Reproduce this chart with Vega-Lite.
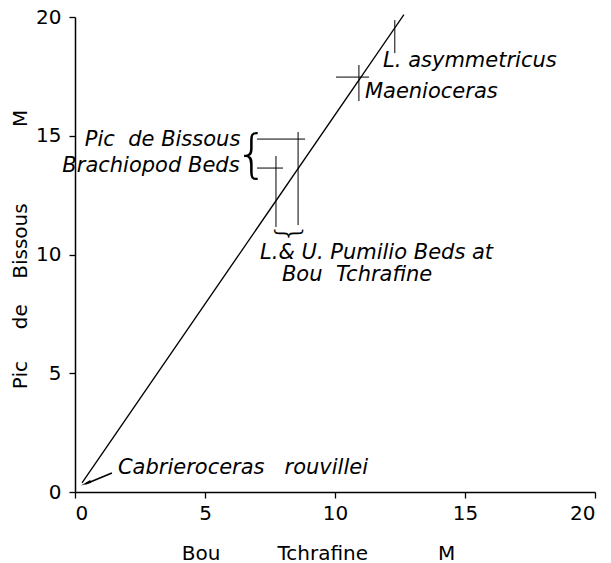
{
  "$schema": "https://vega.github.io/schema/vega-lite/v6.json",
  "width": 520,
  "height": 475,
  "autosize": {"type": "none"},
  "padding": {"left": 75, "top": 17, "right": 16, "bottom": 71},
  "background": "white",
  "config": {
    "view": {"stroke": null},
    "axis": {"grid": false, "domainColor": "black", "tickColor": "black", "domainWidth": 1.5, "tickWidth": 1.3, "labelColor": "black", "titleColor": "black", "labelFont": "DejaVu Sans", "titleFont": "DejaVu Sans", "labelFontSize": 20, "titleFontSize": 20, "titleFontWeight": "normal", "tickSize": 6}
  },
  "datasets": {
    "line": [{"x": 0.27, "y": 0.38}, {"x": 12.65, "y": 20.1}],
    "vbars": [
      {"x": 12.3, "y1": 18.48, "y2": 19.87},
      {"x": 10.92, "y1": 16.46, "y2": 17.98},
      {"x": 8.58, "y1": 11.24, "y2": 15.16},
      {"x": 7.73, "y1": 11.16, "y2": 14.15}
    ],
    "hbars": [
      {"y": 17.47, "x1": 10.04, "x2": 11.31},
      {"y": 14.86, "x1": 7.0, "x2": 8.85},
      {"y": 13.64, "x1": 7.0, "x2": 8.0}
    ],
    "labelsLeft": [
      {"x": 11.85, "y": 18.15, "label": "L. asymmetricus"},
      {"x": 11.15, "y": 16.84, "label": "Maenioceras"},
      {"x": 7.12, "y": 10.06, "label": "L.& U. Pumilio Beds at"},
      {"x": 7.96, "y": 9.14, "label": "Bou\u00a0\u00a0Tchrafine"},
      {"x": 1.65, "y": 1.01, "label": "Cabrieroceras\u00a0\u00a0\u00a0rouvillei"}
    ],
    "labelsRight": [
      {"x": 6.36, "y": 14.82, "label": "Pic\u00a0\u00a0de Bissous"},
      {"x": 6.33, "y": 13.73, "label": "Brachiopod Beds"}
    ],
    "braceLeft": [{"x": 6.8, "y": 14.19}],
    "braceBottom": [{"x": 8.19, "y": 10.9}],
    "arrow": [{"x": 1.42, "y": 0.8, "x2": 0.4, "y2": 0.34}],
    "arrowHead": [{"x": 0.48, "y": 0.39}]
  },
  "layer": [
    {
      "data": {"name": "line"},
      "mark": {"type": "line", "color": "black", "strokeWidth": 1.3},
      "encoding": {
        "x": {"field": "x", "type": "quantitative", "scale": {"domain": [0, 20], "nice": false}, "axis": {"values": [0, 5, 10, 15, 20], "title": "Bou\u00a0\u00a0\u00a0\u00a0\u00a0\u00a0\u00a0\u00a0\u00a0Tchrafine\u00a0\u00a0\u00a0\u00a0\u00a0\u00a0\u00a0\u00a0\u00a0\u00a0\u00a0M", "labelPadding": 5, "titlePadding": 20, "titleX": 243}},
        "y": {"field": "y", "type": "quantitative", "scale": {"domain": [0, 20], "nice": false}, "axis": {"values": [0, 5, 10, 15, 20], "title": "Pic\u00a0\u00a0\u00a0\u00a0\u00a0de\u00a0\u00a0\u00a0\u00a0Bissous\u00a0\u00a0\u00a0\u00a0\u00a0\u00a0\u00a0\u00a0\u00a0\u00a0\u00a0\u00a0M", "labelPadding": 8, "titlePadding": 5, "titleY": 232}}
      }
    },
    {
      "data": {"name": "vbars"},
      "mark": {"type": "rule", "color": "black", "strokeWidth": 1},
      "encoding": {
        "x": {"field": "x", "type": "quantitative"},
        "y": {"field": "y1", "type": "quantitative"},
        "y2": {"field": "y2"}
      }
    },
    {
      "data": {"name": "hbars"},
      "mark": {"type": "rule", "color": "black", "strokeWidth": 1},
      "encoding": {
        "y": {"field": "y", "type": "quantitative"},
        "x": {"field": "x1", "type": "quantitative"},
        "x2": {"field": "x2"}
      }
    },
    {
      "data": {"name": "labelsLeft"},
      "mark": {"type": "text", "align": "left", "baseline": "middle", "font": "DejaVu Sans", "fontStyle": "italic", "fontSize": 21, "color": "black"},
      "encoding": {
        "x": {"field": "x", "type": "quantitative"},
        "y": {"field": "y", "type": "quantitative"},
        "text": {"field": "label"}
      }
    },
    {
      "data": {"name": "labelsRight"},
      "mark": {"type": "text", "align": "right", "baseline": "middle", "font": "DejaVu Sans", "fontStyle": "italic", "fontSize": 21, "color": "black"},
      "encoding": {
        "x": {"field": "x", "type": "quantitative"},
        "y": {"field": "y", "type": "quantitative"},
        "text": {"field": "label"}
      }
    },
    {
      "data": {"name": "braceLeft"},
      "mark": {"type": "text", "text": "{", "align": "center", "baseline": "middle", "font": "DejaVu Sans", "fontWeight": 200, "fontSize": 52, "color": "black"},
      "encoding": {
        "x": {"field": "x", "type": "quantitative"},
        "y": {"field": "y", "type": "quantitative"}
      }
    },
    {
      "data": {"name": "braceBottom"},
      "mark": {"type": "text", "text": "{", "angle": 270, "align": "center", "baseline": "middle", "font": "DejaVu Sans", "fontWeight": 200, "fontSize": 32, "color": "black"},
      "encoding": {
        "x": {"field": "x", "type": "quantitative"},
        "y": {"field": "y", "type": "quantitative"}
      }
    },
    {
      "data": {"name": "arrow"},
      "mark": {"type": "rule", "color": "black", "strokeWidth": 1.6},
      "encoding": {
        "x": {"field": "x", "type": "quantitative"},
        "y": {"field": "y", "type": "quantitative"},
        "x2": {"field": "x2"},
        "y2": {"field": "y2"}
      }
    },
    {
      "data": {"name": "arrowHead"},
      "mark": {"type": "point", "shape": "wedge", "angle": 248, "filled": true, "color": "black", "size": 150, "opacity": 1},
      "encoding": {
        "x": {"field": "x", "type": "quantitative"},
        "y": {"field": "y", "type": "quantitative"}
      }
    }
  ]
}
